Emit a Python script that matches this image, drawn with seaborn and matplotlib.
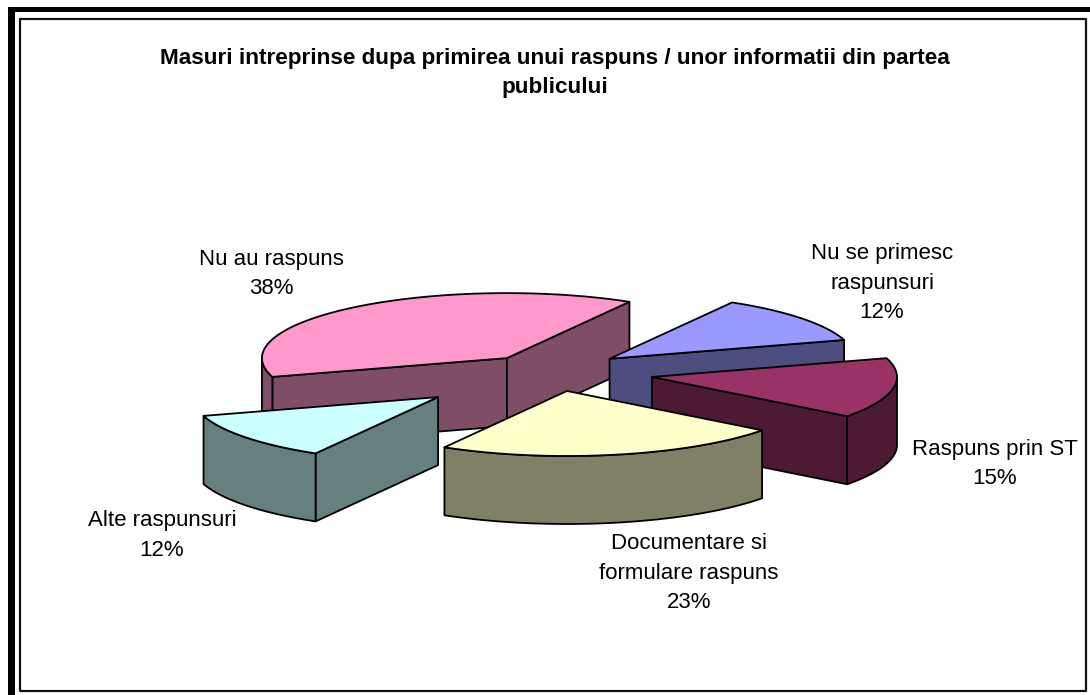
"""
Exploded 3D-look pie: Masuri intreprinse dupa primirea unui raspuns.
Seaborn has no pie, so slices are projected by hand from the percentages.
"""

import matplotlib
matplotlib.use("Agg")
import matplotlib.pyplot as plt
import numpy as np
import seaborn as sns

TITLE = ("Masuri intreprinse dupa primirea unui raspuns / unor informatii din partea\n"
         "publicului")

# clockwise from the start angle
CATEGORIES = ["Nu se primesc\nraspunsuri", "Raspuns prin ST",
              "Documentare si\nformulare raspuns", "Alte raspunsuri", "Nu au raspuns"]
PERCENTS = [12, 15, 23, 12, 38]

TOP_COLORS = ["#9999FF", "#993366", "#FFFFCC", "#CCFFFF", "#FF99CC"]
WALL_COLORS = ["#4D4D80", "#4D1933", "#808066", "#668080", "#804D66"]

# ---------------------------------------------------------------------------
# Projection settings (pixels of the 1090x695 canvas)
# ---------------------------------------------------------------------------
CENTER_X, CENTER_Y = 540, 375
RADIUS_X, RADIUS_Y = 245, 65
DEPTH = 68
START_ANGLE = 60.0
# explosion of each slice, in the plane of the pie, as a fraction of the radius
EXPLODE_X = [0.284, 0.457, 0.110, -0.416, -0.135]
EXPLODE_Y = [0.25, -0.03, -0.246, -0.34, 0.26]
# slices painted back to front
DRAW_ORDER = [4, 0, 1, 3, 2]
# centre of each label block
LABEL_X = [882, 995, 689, 162, 271]
LABEL_Y = [283, 464, 573, 535.5, 274]
FONT = "Liberation Sans"


def arc_points(tip_x, tip_y, t0, t1, n=80):
    t = np.radians(np.linspace(t0, t1, n))
    return tip_x + RADIUS_X * np.cos(t), tip_y - RADIUS_Y * np.sin(t)


def draw_wall(ax, xs, ys, color):
    px = np.concatenate([xs, xs[::-1]])
    py = np.concatenate([ys, ys[::-1] + DEPTH])
    ax.fill(px, py, facecolor=color, edgecolor="black", linewidth=1.3, joinstyle="round")


def draw_slice(ax, i, t0, t1):
    tip_x = CENTER_X + EXPLODE_X[i] * RADIUS_X
    tip_y = CENTER_Y - EXPLODE_Y[i] * RADIUS_Y
    wall = WALL_COLORS[i]

    # cut faces that look towards the viewer
    if np.cos(np.radians(t0)) < 0:
        x, y = arc_points(tip_x, tip_y, t0, t0, 2)
        draw_wall(ax, np.array([tip_x, x[0]]), np.array([tip_y, y[0]]), wall)
    if np.cos(np.radians(t1)) > 0:
        x, y = arc_points(tip_x, tip_y, t1, t1, 2)
        draw_wall(ax, np.array([tip_x, x[0]]), np.array([tip_y, y[0]]), wall)

    # outer rim, only the front half of the ellipse can show
    lo, hi = max(t1, -180), min(t0, 0)
    if hi > lo:
        xs, ys = arc_points(tip_x, tip_y, hi, lo)
        draw_wall(ax, xs, ys, wall)

    xs, ys = arc_points(tip_x, tip_y, t0, t1)
    ax.fill(np.r_[tip_x, xs], np.r_[tip_y, ys], facecolor=TOP_COLORS[i],
            edgecolor="black", linewidth=1.3, joinstyle="round")


sns.set_theme(style="white")
plt.rcParams["font.family"] = [FONT, "DejaVu Sans"]

fig = plt.figure(figsize=(10.9, 6.95), dpi=100, facecolor="white")
ax = fig.add_axes([0, 0, 1, 1])
ax.set_xlim(0, 1090)
ax.set_ylim(695, 0)
ax.axis("off")

# frame: heavy left/top rule plus the thin chart border
ax.fill([8, 15, 15, 8], [7, 7, 695, 695], color="black", lw=0)
ax.fill([8, 1090, 1090, 8], [7, 7, 12, 12], color="black", lw=0)
ax.plot([20, 1086, 1086, 20, 20], [18.5, 18.5, 691, 691, 18.5], color="#111111", lw=1.6)

angles = START_ANGLE - np.cumsum([0] + PERCENTS) * 3.6
for i in DRAW_ORDER:
    draw_slice(ax, i, angles[i], angles[i + 1])

for i, name in enumerate(CATEGORIES):
    ax.text(LABEL_X[i], LABEL_Y[i], f"{name}\n{PERCENTS[i]}%", ha="center", va="center",
            fontsize=16, color="black", linespacing=1.52)

ax.text(555, 73, TITLE, ha="center", va="center", fontsize=16.2, fontweight="bold",
        color="black", linespacing=1.5)

fig.savefig("out.png", dpi=100, facecolor="white")
plt.close(fig)
